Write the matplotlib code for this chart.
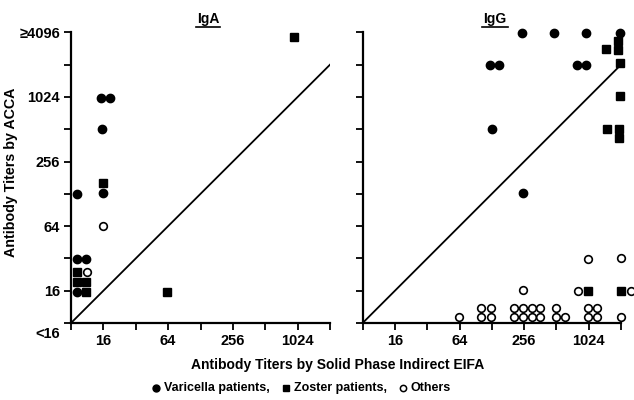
import matplotlib
matplotlib.use("Agg")
import matplotlib.pyplot as plt
import matplotlib.transforms as mtransforms
from matplotlib.lines import Line2D

plt.rcParams["font.family"] = ["Liberation Sans", "DejaVu Sans"]
plt.rcParams["font.weight"] = "bold"

# titers are stored in log2 units: 3 = "<16", 4 = 16, ... 12 = ">=4096"
tick_pos = [3, 4, 5, 6, 7, 8, 9, 10, 11, 12]
y_labels = {3: "<16", 4: "16", 6: "64", 8: "256", 10: "1024", 12: "≥4096"}
x_labels = {4: "16", 6: "64", 8: "256", 10: "1024"}

# IgA panel
iga_var_x = [3.94, 4.20, 3.97, 3.99, 3.17, 3.20, 3.46, 3.20]
iga_var_y = [9.98, 9.98, 9.01, 7.02, 7.00, 4.97, 4.97, 3.97]
iga_zos_x = [3.99, 3.20, 3.20, 3.46, 3.46, 5.97, 9.90]
iga_zos_y = [7.33, 4.58, 4.27, 4.27, 3.97, 3.95, 11.86]
iga_oth_x = [3.99, 3.50]
iga_oth_y = [6.00, 4.58]

# IgG panel
igg_var_x = [7.94, 8.93, 9.93, 10.97, 6.94, 7.23, 9.64, 9.93, 6.99, 7.97]
igg_var_y = [11.99, 11.99, 11.99, 11.99, 11.0, 11.0, 11.0, 11.0, 9.01, 7.02]
igg_zos_x = [10.90, 10.53, 10.90, 10.97, 10.97, 10.57, 10.94, 10.94, 9.98, 11.0]
igg_zos_y = [11.73, 11.48, 11.46, 11.05, 10.02, 9.01, 9.01, 8.72, 4.0, 4.0]
igg_oth_x = [5.99, 6.68, 6.68, 6.97, 6.97, 7.68, 7.68, 7.97, 7.97, 8.23, 8.23,
             8.49, 8.49, 7.97, 9.00, 9.00, 9.26, 9.67, 9.98, 9.98, 9.98,
             10.27, 10.27, 10.99, 11.31, 11.0]
igg_oth_y = [3.18, 3.18, 3.45, 3.18, 3.45, 3.18, 3.45, 3.18, 3.45, 3.18, 3.45,
             3.18, 3.45, 4.02, 3.18, 3.45, 3.18, 4.00, 4.97, 3.18, 3.45,
             3.18, 3.45, 5.00, 4.00, 3.18]

legend_labels = ["Varicella patients,", "Zoster patients,", "Others"]

fig = plt.figure(figsize=(6.34, 4.0), dpi=100)
ax1 = fig.add_axes([0.112, 0.1925, 0.4085, 0.7265])
ax2 = fig.add_axes([0.572, 0.1925, 0.4075, 0.7265])

panels = [
    (ax1, "IgA", 0.529, iga_var_x, iga_var_y, iga_zos_x, iga_zos_y, iga_oth_x, iga_oth_y),
    (ax2, "IgG", 0.512, igg_var_x, igg_var_y, igg_zos_x, igg_zos_y, igg_oth_x, igg_oth_y),
]

for ax, name, tx, vx, vy, zx, zy, ox, oy in panels:
    ax.plot([3, 11], [3, 11], color="black", lw=1.3)
    ax.plot(vx, vy, "o", ms=6, color="black", mec="black", clip_on=False)
    ax.plot(zx, zy, "s", ms=5.5, color="black", mec="black", clip_on=False)
    ax.plot(ox, oy, "o", ms=5.5, mfc="white", mec="black", mew=1.2, clip_on=False)
    ax.set_xlim(3, 11)
    ax.set_ylim(3, 12)
    ax.spines["top"].set_visible(False)
    ax.spines["right"].set_visible(False)
    for s in ("left", "bottom"):
        ax.spines[s].set_linewidth(1.6)
    ax.set_xticks(tick_pos[:-1])
    ax.set_yticks(tick_pos)
    ax.set_xticklabels([x_labels.get(t, "") for t in tick_pos[:-1]])
    ax.tick_params(length=5, width=1.3, labelsize=10.5, pad=3)
    ax.set_title(name, fontsize=10, fontweight="bold", pad=7, x=tx)

ax1.set_yticklabels([y_labels.get(t, "") for t in tick_pos])
ax2.set_yticklabels([])
# the "<16" label sits a little below the origin
shift = mtransforms.ScaledTranslation(0, -10 / 100, fig.dpi_scale_trans)
lab0 = ax1.get_yticklabels()[0]
lab0.set_transform(lab0.get_transform() + shift)

ax1.set_ylabel("Antibody Titers by ACCA", fontsize=10.3, fontweight="bold")
ax1.yaxis.set_label_coords(-0.205, 0.52)

fig.text(0.533, 0.088, "Antibody Titers by Solid Phase Indirect EIFA",
         ha="center", va="center", fontsize=10, fontweight="bold")

# underline the panel titles
fig.canvas.draw()
renderer = fig.canvas.get_renderer()
for ax in (ax1, ax2):
    bb = ax.title.get_window_extent(renderer)
    x0, x1 = (bb.x0 - 1) / fig.bbox.width, (bb.x1 + 1) / fig.bbox.width
    yy = (bb.y0 - 1) / fig.bbox.height
    fig.add_artist(Line2D([x0, x1], [yy, yy], color="black", lw=1.2,
                          transform=fig.transFigure))

# legend row, placed by hand: marker, label, gap, next marker ...
W = fig.bbox.width
leg_y = 1 - 388 / 400
leg_marks = [
    dict(marker="o", ms=5, color="black"),
    dict(marker="s", ms=4.5, color="black"),
    dict(marker="o", ms=4.5, mfc="white", mec="black", mew=1.1),
]
px = 156.0
for style, text in zip(leg_marks, legend_labels):
    fig.add_artist(Line2D([px / W], [leg_y], ls="none", transform=fig.transFigure, **style))
    t = fig.text((px + 8) / W, leg_y, text, ha="left", va="center",
                 fontsize=9, fontweight="bold")
    bb = t.get_window_extent(renderer)
    px = bb.x1 + 16

fig.savefig("out.png", dpi=100)
